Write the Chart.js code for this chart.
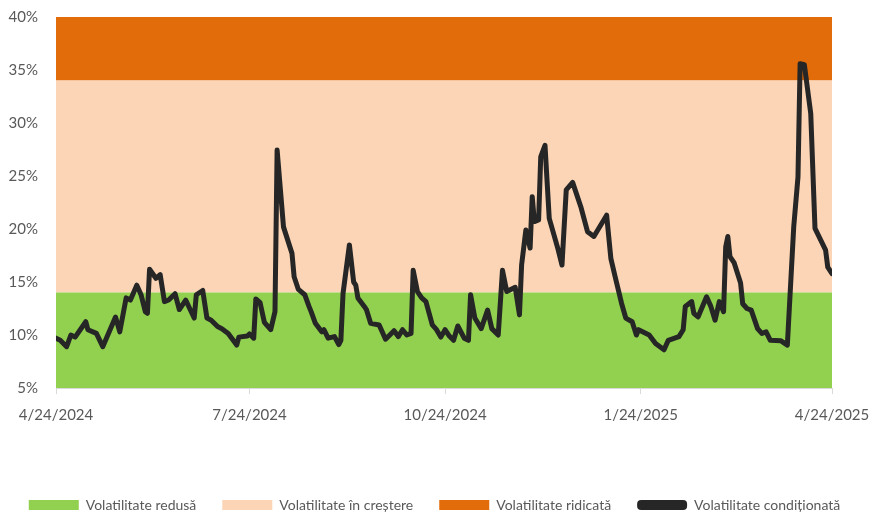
<!DOCTYPE html>
<html>
<head>
<meta charset="utf-8">
<script src="https://cdn.jsdelivr.net/npm/chart.js@4.4.1/dist/chart.umd.min.js"></script>
<style>
  html, body { margin: 0; padding: 0; background: #fff; }
  .c-chart { position: relative; width: 869px; height: 513px; }
</style>
</head>
<body>
<div class="c-chart"><canvas id="myChart"></canvas></div>
<script>
// days since 4/24/2024 and conditional volatility (%)
const days = [0, 2, 5, 7, 9, 14, 15, 19, 22, 28, 30, 33, 35, 38, 40, 42, 43, 44, 47, 49,
  51, 53, 56, 58, 61, 65, 66, 69, 71, 73, 76, 78, 81, 85, 86, 90, 91, 93, 94, 96,
  98, 101, 103, 104, 107, 111, 112, 114, 117, 119, 120, 122, 125, 126, 128, 131, 133, 134, 135, 138,
  140, 141, 142, 145, 146, 148, 152, 155, 157, 159, 161, 163, 165, 167, 168, 170, 172, 174, 177, 179,
  181, 183, 185, 187, 189, 192, 194, 195, 197, 200, 203, 205, 208, 210, 212, 216, 218, 219, 221, 223,
  224, 225, 227, 228, 230, 232, 236, 238, 240, 243, 247, 250, 253, 259, 261, 263, 266, 268, 271, 273,
  274, 279, 282, 286, 288, 293, 295, 296, 299, 300, 302, 306, 308, 310, 312, 314, 315, 316, 317, 319,
  322, 323, 325, 327, 330, 332, 334, 336, 341, 344, 347, 349, 350, 352, 355, 357, 362, 363, 365];
const vol = [9.7, 9.5, 8.9, 10.0, 9.8, 11.25, 10.5, 10.15, 8.9, 11.7, 10.3, 13.5, 13.3, 14.7, 13.8, 12.2, 12.05, 16.2, 15.35, 15.7,
  13.15, 13.3, 13.9, 12.4, 13.3, 11.6, 13.8, 14.2, 11.6, 11.4, 10.8, 10.6, 10.15, 9.05, 9.8, 9.9, 10.1, 9.7, 13.4, 13.05,
  11.2, 10.5, 12.2, 27.45, 20.2, 17.7, 15.5, 14.3, 13.8, 12.7, 12.2, 11.1, 10.3, 10.5, 9.7, 9.85, 9.1, 9.5, 13.9, 18.5,
  15.0, 14.7, 13.5, 12.7, 12.4, 11.1, 10.95, 9.6, 10.0, 10.4, 9.85, 10.5, 10.0, 10.15, 16.1, 14.1, 13.5, 13.15, 10.95, 10.5,
  9.8, 10.5, 9.9, 9.5, 10.85, 9.7, 9.5, 13.8, 11.6, 10.6, 12.35, 10.6, 10.0, 16.1, 14.1, 14.5, 11.9, 16.6, 19.9, 18.2,
  23.05, 20.7, 20.85, 26.8, 27.9, 21.0, 18.2, 16.6, 23.7, 24.4, 22.0, 19.75, 19.3, 21.3, 17.2, 15.5, 13.0, 11.6, 11.25, 10.0,
  10.5, 10.0, 9.2, 8.6, 9.5, 9.85, 10.5, 12.7, 13.15, 12.05, 11.7, 13.6, 12.7, 11.4, 13.15, 12.2, 18.3, 19.3, 17.4, 16.8,
  14.9, 12.95, 12.5, 12.35, 10.6, 10.15, 10.3, 9.5, 9.45, 9.05, 20.2, 24.9, 35.6, 35.5, 30.9, 20.05, 18.0, 16.4, 15.8];

// zones: upper limit of each band (%)
const bandNames = ['Volatilitate redusă', 'Volatilitate în creștere', 'Volatilitate ridicată'];
const bandTops = [14, 34, 40];
const bandColors = ['#92D050', '#FBD5B5', '#E36C0A'];
const lineName = 'Volatilitate condiționată';

const tickDays = [0, 91, 183, 275, 365];
const tickLabels = ['4/24/2024', '7/24/2024', '10/24/2024', '1/24/2025', '4/24/2025'];
const yTicks = [5, 10, 15, 20, 25, 30, 35, 40];

const makeChart = function () {
  const lineData = days.map((d, i) => ({ x: d, y: vol[i] }));

  const datasets = [
    {
      label: lineName,
      data: lineData,
      borderColor: '#262626',
      backgroundColor: '#262626',
      borderWidth: 5,
      pointRadius: 0,
      tension: 0,
      borderJoinStyle: 'round',
      borderCapStyle: 'round',
      fill: false,
    },
  ];
  bandNames.forEach(function (name, i) {
    datasets.push({
      label: name,
      data: [
        { x: tickDays[0], y: bandTops[i] },
        { x: tickDays[tickDays.length - 1], y: bandTops[i] },
      ],
      borderWidth: 0,
      borderColor: bandColors[i],
      backgroundColor: bandColors[i],
      pointRadius: 0,
      fill: i === 0 ? 'start' : '-1',
    });
  });

  // legend: bands first, line last
  const legendLabels = function (chart) {
    const items = Chart.defaults.plugins.legend.labels.generateLabels(chart);
    items.forEach(function (item) {
      item.lineWidth = 0;
      if (item.datasetIndex === 0) {
        item.borderRadius = 4;
      }
    });
    return items.sort((a, b) => (a.datasetIndex === 0) - (b.datasetIndex === 0) || a.datasetIndex - b.datasetIndex);
  };

  const config = {
    type: 'line',
    data: { datasets },
    options: {
      animation: false,
      responsive: true,
      maintainAspectRatio: false,
      layout: { padding: 0 },
      scales: {
        x: {
          type: 'linear',
          min: tickDays[0],
          max: tickDays[tickDays.length - 1],
          afterBuildTicks: (scale) => {
            scale.ticks = tickDays.map((v) => ({ value: v }));
          },
          afterFit: (scale) => {
            scale.height = 84;
            scale.paddingLeft = 0;
            scale.paddingRight = 37;
          },
          ticks: {
            autoSkip: false,
            maxRotation: 0,
            padding: 12,
            color: '#595959',
            font: { size: 15 },
            callback: (v) => tickLabels[tickDays.indexOf(v)],
          },
          grid: { drawOnChartArea: false, drawTicks: true, tickLength: 6, color: '#D9D9D9' },
          border: { display: true, color: '#D9D9D9' },
        },
        y: {
          min: 5,
          max: 40,
          afterBuildTicks: (scale) => {
            scale.ticks = yTicks.map((v) => ({ value: v }));
          },
          afterFit: (scale) => {
            scale.width = 56;
            scale.paddingTop = 17;
            scale.paddingBottom = 0;
          },
          ticks: {
            padding: 10,
            color: '#595959',
            font: { size: 15 },
            callback: (v) => v + '%',
          },
          grid: { display: false },
          border: { display: false },
        },
      },
      plugins: {
        tooltip: { enabled: false },
        legend: {
          position: 'bottom',
          maxHeight: 41,
          labels: {
            boxWidth: 50,
            boxHeight: 10,
            padding: 26,
            color: '#595959',
            font: { size: 14 },
            generateLabels: legendLabels,
          },
        },
      },
    },
  };

  Chart.defaults.font.family = 'Lato';
  new Chart(document.getElementById('myChart'), config);
};

document.addEventListener('DOMContentLoaded', makeChart);
</script>
</body>
</html>
